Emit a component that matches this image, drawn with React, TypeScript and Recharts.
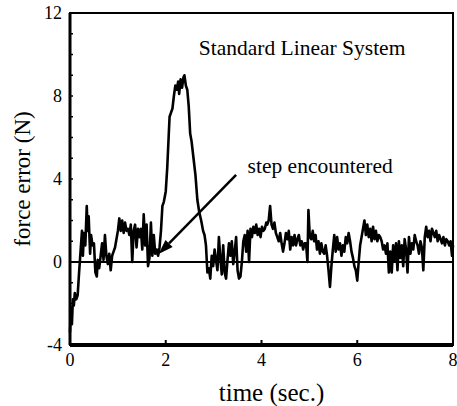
import {
  LineChart,
  Line,
  XAxis,
  YAxis,
  ReferenceLine,
  ReferenceArea,
  ReferenceDot,
} from 'recharts';

// time (sec.) and force error (N)
const timeSec = [
  0, 0.02, 0.04, 0.06, 0.08, 0.1, 0.13, 0.16, 0.19, 0.22,
  0.25, 0.27, 0.29, 0.32, 0.35, 0.37, 0.39, 0.42, 0.44, 0.47,
  0.5, 0.53, 0.56, 0.58, 0.61, 0.64, 0.67, 0.7, 0.73, 0.76,
  0.79, 0.82, 0.85, 0.88, 0.91, 0.94, 0.97, 1.0, 1.03, 1.06,
  1.09, 1.12, 1.15, 1.18, 1.21, 1.24, 1.27, 1.3, 1.33, 1.36,
  1.39, 1.42, 1.45, 1.48, 1.51, 1.54, 1.57, 1.6, 1.63, 1.66,
  1.69, 1.72, 1.75, 1.78, 1.81, 1.84, 1.87, 1.9, 1.93, 1.96,
  2.0, 2.03, 2.06, 2.08, 2.11, 2.14, 2.17, 2.2, 2.23, 2.26,
  2.28, 2.31, 2.34, 2.37, 2.39, 2.42, 2.45, 2.48, 2.51, 2.54,
  2.58, 2.62, 2.66, 2.7, 2.74, 2.78, 2.81, 2.84, 2.87, 2.9,
  2.93, 2.96, 2.99, 3.02, 3.05, 3.08, 3.11, 3.14, 3.17, 3.2,
  3.23, 3.26, 3.29, 3.32, 3.35, 3.38, 3.41, 3.44, 3.47, 3.5,
  3.53, 3.56, 3.59, 3.62, 3.65, 3.68, 3.71, 3.74, 3.77, 3.8,
  3.83, 3.86, 3.89, 3.92, 3.95, 3.98, 4.01, 4.04, 4.07, 4.1,
  4.12, 4.15, 4.18, 4.21, 4.24, 4.27, 4.3, 4.33, 4.36, 4.39,
  4.42, 4.45, 4.48, 4.51, 4.54, 4.57, 4.6, 4.63, 4.66, 4.69,
  4.72, 4.75, 4.78, 4.81, 4.84, 4.87, 4.9, 4.93, 4.96, 4.98,
  5.01, 5.04, 5.07, 5.1, 5.13, 5.16, 5.19, 5.22, 5.25, 5.28,
  5.31, 5.34, 5.37, 5.4, 5.43, 5.46, 5.49, 5.52, 5.55, 5.58,
  5.61, 5.64, 5.67, 5.7, 5.73, 5.76, 5.79, 5.82, 5.85, 5.88,
  5.91, 5.94, 5.97, 6.0, 6.03, 6.06, 6.09, 6.12, 6.15, 6.18,
  6.21, 6.24, 6.27, 6.3, 6.33, 6.36, 6.39, 6.42, 6.45, 6.48,
  6.51, 6.54, 6.57, 6.6, 6.63, 6.66, 6.69, 6.72, 6.75, 6.78,
  6.81, 6.84, 6.87, 6.9, 6.93, 6.96, 6.99, 7.02, 7.05, 7.08,
  7.11, 7.14, 7.17, 7.2, 7.23, 7.26, 7.29, 7.32, 7.35, 7.38,
  7.41, 7.44, 7.47, 7.5, 7.53, 7.56, 7.59, 7.62, 7.65, 7.68,
  7.71, 7.74, 7.77, 7.8, 7.83, 7.86, 7.89, 7.92, 7.95, 7.98,
  8.0,
];

const forceN = [
  -3.4, -2.2, -3.0, -1.8, -2.1, -1.5, -1.8, -1.6, -0.5, 0.5,
  1.5, 0.3, 1.4, 0.8, 2.7, 1.5, 2.2, 0.4, 1.3, 0.8,
  0.9, -0.5, -0.7, 0.1, -0.3, 0.3, 0.9, 0.1, 1.3, 0.3,
  -0.1, 0.4, -0.4, 0.3, 0.5, 0.7, 1.1, 1.5, 2.1, 1.5,
  2.0, 1.4, 1.9, 1.5, 1.6, 1.3, 1.8, 0.0, 1.5, 1.8,
  0.7, 1.6, 1.2, 1.6, 0.6, 2.3, 0.8, 1.8, -0.2, 0.2,
  1.9, 0.3, 1.3, 0.4, 0.6, 0.3, 0.7, 1.5, 2.7, 2.9,
  3.4, 4.5, 6.0, 7.0, 7.2, 7.4, 8.0, 8.5, 8.3, 8.7,
  8.1, 8.8, 8.4, 8.9, 9.0, 8.5, 8.3, 7.5, 6.2, 5.8,
  5.0, 4.2, 3.0, 2.4, 2.0, 1.5, 1.3, 0.8, -0.5, -0.3,
  -0.8, 0.3, -0.2, 0.6, 0.1, -0.4, 1.2, 0.2, -0.6, 0.8,
  -0.5, -0.8, 0.1, 0.9, 0.3, 1.0, -0.1, 0.5, 1.2, -0.4,
  -0.8, -0.7, 0.0, 1.0, 1.3, 0.5, 1.5, 0.0, 1.6, 1.2,
  1.7, 1.4, 1.8, 1.3, 1.6, 1.2, 1.7, 1.5, 1.6, 1.9,
  1.8, 2.0, 2.7, 1.8, 1.6, 1.9, 1.4, 1.2, 1.0, 1.4,
  0.9, 0.5, 0.9, 1.4, 1.1, 1.5, 0.6, 1.2, 0.8, 1.3,
  0.8, 1.1, 1.3, 0.8, 1.0, 0.6, 0.9, 0.9, 0.0, 2.5,
  1.2, 1.1, 1.5, 1.0, 1.3, 0.6, 1.0, 0.4, 0.9, 0.5,
  0.4, 0.8, 0.3, -0.4, -1.2, -0.2, 0.6, 1.3, 0.5, 1.2,
  0.6, 0.9, 0.3, 0.8, 0.5, 1.2, 0.9, 1.4, 1.0, 0.5,
  0.2, -0.2, -0.4, -0.9, 0.0, 0.8, 1.2, 1.6, 2.0, 1.3,
  1.8, 1.2, 1.6, 1.0, 1.7, 1.1, 1.5, 1.0, 1.3, 1.2,
  1.0, 0.6, 0.8, 0.4, 0.9, -0.5, 0.5, -0.5, 0.8, 0.1,
  0.9, -0.4, 1.0, 0.2, 0.8, -0.2, 1.1, 0.6, -0.5, 1.2,
  0.4, 0.9, 0.6, 1.3, 1.0, 0.8, 0.4, 1.0, 0.7, -0.4,
  1.2, 1.7, 1.2, 1.5, 1.0, 1.6, 1.4, 1.2, 1.5, 1.0,
  1.3, 1.1, 0.9, 1.2, 0.8, 1.1, 1.0, 0.8, 1.0, 0.3,
  0.8,
];

const xTicks = [0, 2, 4, 6, 8];
const yTicks = [-4, -3, -2, -1, 0, 1, 2, 3, 4, 5, 6, 7, 8, 9, 10, 11, 12];
const yLabelEvery = 4;

// annotation anchors in data units: [time, force]
const titleAt = [2.69, 10.0];
const stepTextAt = [3.71, 4.3];
const arrowFrom = [3.47, 4.2];
const arrowTo = [1.85, 0.38];

const FONT = "'Liberation Serif', 'Times New Roman', serif";
const serif = { fontFamily: FONT };

const data = timeSec.map((t, i) => ({ t, f: forceN[i] }));

const Arrow = (props: any) => {
  const { x1, y1, x2, y2 } = props;
  const ang = Math.atan2(y2 - y1, x2 - x1);
  const len = 15;
  const half = 5;
  const bx = x2 - len * Math.cos(ang);
  const by = y2 - len * Math.sin(ang);
  const pts = [
    [x2, y2],
    [bx + half * Math.sin(ang), by - half * Math.cos(ang)],
    [bx - half * Math.sin(ang), by + half * Math.cos(ang)],
  ]
    .map((p) => p.join(','))
    .join(' ');
  return (
    <g>
      <line x1={x1} y1={y1} x2={bx} y2={by} stroke="#000" strokeWidth={2.5} />
      <polygon points={pts} fill="#000" />
    </g>
  );
};

const textAt = (value: string, size: number) => (props: any) => (
  <text x={props.cx} y={props.cy} style={serif} fontSize={size} fill="#000">
    {value}
  </text>
);

const XTick = (props: any) => {
  const { x, y, payload } = props;
  return (
    <text x={x} y={y + 13} textAnchor="middle" style={serif} fontSize={18} fill="#000">
      {payload.value}
    </text>
  );
};

const YTick = (props: any) => {
  const { x, y, payload } = props;
  if (payload.value % yLabelEvery !== 0) return <g />;
  return (
    <text x={x} y={y} textAnchor="end" dominantBaseline="central" style={serif} fontSize={18} fill="#000">
      {payload.value}
    </text>
  );
};

const YTitle = (props: any) => {
  const vb = props.viewBox;
  const cx = vb.x + 22;
  const cy = vb.y + vb.height / 2;
  return (
    <text
      x={cx}
      y={cy}
      transform={`rotate(-90 ${cx} ${cy})`}
      textAnchor="middle"
      dominantBaseline="central"
      style={serif}
      fontSize={23}
      fill="#000"
    >
      force error (N)
    </text>
  );
};

const XTitle = (props: any) => {
  const vb = props.viewBox;
  return (
    <text x={vb.x + vb.width / 2 + 10} y={vb.y + 56} textAnchor="middle" style={serif} fontSize={25} fill="#000">
      time (sec.)
    </text>
  );
};

export default function App() {
  return (
    <div style={{ position: 'absolute', left: 0, top: 0, width: 457, height: 406, background: '#fff', fontFamily: FONT }}>
      <LineChart width={457} height={406} data={data} margin={{ top: 13, right: 4, bottom: 0, left: 0 }}>
        <XAxis
          type="number"
          dataKey="t"
          domain={[0, 8]}
          ticks={xTicks}
          interval={0}
          height={61}
          tickSize={-5}
          tickMargin={13}
          axisLine={{ stroke: '#000', strokeWidth: 4 }}
          tickLine={{ stroke: '#000', strokeWidth: 2 }}
          tick={XTick}
          label={{ content: XTitle }}
        />
        <YAxis
          type="number"
          domain={[-4, 12]}
          ticks={yTicks}
          interval={0}
          width={70}
          tickSize={-3}
          tickMargin={11}
          axisLine={{ stroke: '#000', strokeWidth: 3 }}
          tickLine={{ stroke: '#000', strokeWidth: 1.5 }}
          tick={YTick}
          label={{ content: YTitle }}
        />
        <ReferenceArea x1={0} x2={8} y1={-4} y2={12} fill="none" stroke="#000" strokeWidth={2} ifOverflow="visible" />
        <ReferenceLine y={0} stroke="#000" strokeWidth={2} />
        <Line
          type="linear"
          dataKey="f"
          stroke="#000"
          strokeWidth={2.6}
          strokeLinejoin="round"
          dot={false}
          isAnimationActive={false}
        />
        <ReferenceLine
          segment={[
            { x: arrowFrom[0], y: arrowFrom[1] },
            { x: arrowTo[0], y: arrowTo[1] },
          ]}
          shape={Arrow}
        />
        <ReferenceDot x={titleAt[0]} y={titleAt[1]} r={0} shape={textAt('Standard Linear System', 21.5)} />
        <ReferenceDot x={stepTextAt[0]} y={stepTextAt[1]} r={0} shape={textAt('step encountered', 21.5)} />
      </LineChart>
    </div>
  );
}
